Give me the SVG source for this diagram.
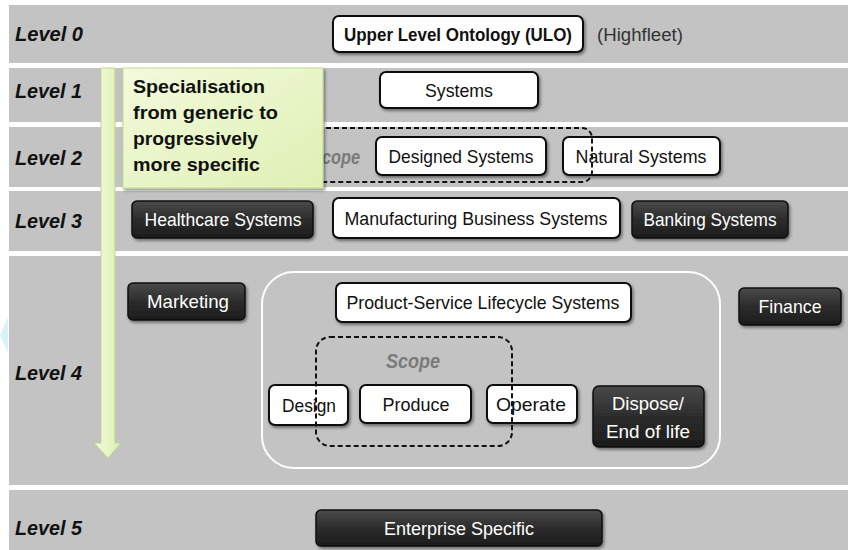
<svg xmlns="http://www.w3.org/2000/svg" width="848" height="550" viewBox="0 0 848 550">
<defs>
<style>
.band{fill:#c3c3c3}
.lvl{font-family:"Liberation Sans",Arial,sans-serif;font-weight:bold;font-style:italic;font-size:21px;fill:#111}
.wb{fill:#fff;stroke:#111;stroke-width:2}
.db{fill:url(#dg);stroke:#0e0e0e;stroke-width:1.5}
.t{font-family:"Liberation Sans",Arial,sans-serif;font-size:19px;text-anchor:middle}
.tw{fill:#111}
.td{fill:#fff}
.scope{fill:none;stroke:#111;stroke-width:2;stroke-dasharray:5 3}
.sc{font-family:"Liberation Sans",Arial,sans-serif;font-size:21px;font-style:italic;font-weight:bold;fill:#7a7a7a}
.gt{font-family:"Liberation Sans",Arial,sans-serif;font-size:19px;font-weight:bold;fill:#111}
</style>
<linearGradient id="dg" x1="0" y1="0" x2="0" y2="1"><stop offset="0" stop-color="#4a4a4a"/><stop offset="0.5" stop-color="#2c2c2c"/><stop offset="1" stop-color="#1c1c1c"/></linearGradient>
<linearGradient id="gg" x1="0" y1="0" x2="1" y2="1"><stop offset="0" stop-color="#f2fadc"/><stop offset="1" stop-color="#dff0b4"/></linearGradient>
<linearGradient id="ga" x1="0" y1="0" x2="1" y2="0"><stop offset="0" stop-color="#f4fbe0"/><stop offset="1" stop-color="#dcefb0"/></linearGradient>
<filter id="sh" x="-10%" y="-20%" width="130%" height="160%"><feDropShadow dx="1.5" dy="2" stdDeviation="1.5" flood-color="#000" flood-opacity="0.45"/></filter>
</defs>
<rect width="848" height="550" fill="#fff"/>
<polygon points="8,317 8,353 0,335" fill="#d8f2fc"/>
<g id="bands">
<rect class="band" x="9" y="5" width="839" height="58"/>
<rect class="band" x="9" y="68" width="839" height="54"/>
<rect class="band" x="9" y="127" width="839" height="60"/>
<rect class="band" x="9" y="191" width="839" height="60"/>
<rect class="band" x="9" y="256" width="839" height="229"/>
<rect class="band" x="9" y="490" width="839" height="60"/>
</g>
<g id="levels">
<text class="lvl" x="15" y="41" textLength="68" lengthAdjust="spacingAndGlyphs">Level 0</text>
<text class="lvl" x="15" y="98" textLength="67" lengthAdjust="spacingAndGlyphs">Level 1</text>
<text class="lvl" x="15" y="165" textLength="67" lengthAdjust="spacingAndGlyphs">Level 2</text>
<text class="lvl" x="15" y="228" textLength="67" lengthAdjust="spacingAndGlyphs">Level 3</text>
<text class="lvl" x="15" y="380" textLength="67" lengthAdjust="spacingAndGlyphs">Level 4</text>
<text class="lvl" x="15" y="535" textLength="67" lengthAdjust="spacingAndGlyphs">Level 5</text>
</g>
<g id="ulo">
<rect class="wb" x="333" y="16" width="250" height="36" rx="6" filter="url(#sh)"/>
<text class="t tw" x="458" y="41" font-weight="bold" textLength="228" lengthAdjust="spacingAndGlyphs">Upper Level Ontology (ULO)</text>
</g>
<text x="597" y="41" font-family="Liberation Sans,Arial,sans-serif" font-size="18" fill="#333" textLength="86" lengthAdjust="spacingAndGlyphs">(Highfleet)</text>
<g id="systems">
<rect class="wb" x="380" y="72" width="158" height="36" rx="6" filter="url(#sh)"/>
<text class="t tw" x="459" y="97" textLength="68" lengthAdjust="spacingAndGlyphs">Systems</text>
</g>
<g id="scope2-label"><text class="sc" x="311" y="164" textLength="49" lengthAdjust="spacingAndGlyphs">Scope</text></g>
<g id="designed">
<rect class="wb" x="376" y="137" width="170" height="38" rx="6" filter="url(#sh)"/>
<text class="t tw" x="461" y="163" textLength="145" lengthAdjust="spacingAndGlyphs">Designed Systems</text>
</g>
<g id="natural">
<rect class="wb" x="563" y="137" width="157" height="38" rx="6" filter="url(#sh)"/>
<text class="t tw" x="641" y="163" textLength="131" lengthAdjust="spacingAndGlyphs">Natural Systems</text>
</g>
<g id="scope2"><rect class="scope" x="300" y="128" width="292" height="54" rx="10"/></g>
<g id="healthcare">
<rect class="db" x="132" y="201" width="181" height="37" rx="5" filter="url(#sh)"/>
<text class="t td" x="223" y="226" textLength="157" lengthAdjust="spacingAndGlyphs">Healthcare Systems</text>
</g>
<g id="manufacturing">
<rect class="wb" x="333" y="198" width="287" height="40" rx="6" filter="url(#sh)"/>
<text class="t tw" x="476" y="225" textLength="263" lengthAdjust="spacingAndGlyphs">Manufacturing Business Systems</text>
</g>
<g id="banking">
<rect class="db" x="632" y="201" width="156" height="37" rx="5" filter="url(#sh)"/>
<text class="t td" x="710" y="226" textLength="133" lengthAdjust="spacingAndGlyphs">Banking Systems</text>
</g>
<g id="lifecycle-frame"><rect x="262" y="272" width="458" height="196" rx="32" fill="none" stroke="#fff" stroke-width="2"/></g>
<g id="marketing">
<rect class="db" x="128" y="283" width="117" height="37" rx="5" filter="url(#sh)"/>
<text class="t td" x="188" y="308" textLength="82" lengthAdjust="spacingAndGlyphs">Marketing</text>
</g>
<g id="product-service">
<rect class="wb" x="336" y="283" width="295" height="39" rx="6" filter="url(#sh)"/>
<text class="t tw" x="483" y="309" textLength="273" lengthAdjust="spacingAndGlyphs">Product-Service Lifecycle Systems</text>
</g>
<g id="finance">
<rect class="db" x="739" y="288" width="102" height="37" rx="5" filter="url(#sh)"/>
<text class="t td" x="790" y="313" textLength="63" lengthAdjust="spacingAndGlyphs">Finance</text>
</g>
<g id="scope4-label"><text class="sc" x="413" y="368" text-anchor="middle" textLength="54" lengthAdjust="spacingAndGlyphs">Scope</text></g>
<g id="design">
<rect class="wb" x="269" y="385" width="79" height="40" rx="6" filter="url(#sh)"/>
<text class="t tw" x="309" y="412" textLength="54" lengthAdjust="spacingAndGlyphs">Design</text>
</g>
<g id="produce">
<rect class="wb" x="360" y="385" width="111" height="38" rx="6" filter="url(#sh)"/>
<text class="t tw" x="416" y="411" textLength="67" lengthAdjust="spacingAndGlyphs">Produce</text>
</g>
<g id="operate">
<rect class="wb" x="487" y="385" width="90" height="38" rx="6" filter="url(#sh)"/>
<text class="t tw" x="531" y="411" textLength="70" lengthAdjust="spacingAndGlyphs">Operate</text>
</g>
<g id="dispose">
<rect class="db" x="593" y="386" width="111" height="61" rx="6" filter="url(#sh)"/>
<text class="t td" x="648" y="410" textLength="72" lengthAdjust="spacingAndGlyphs">Dispose/</text>
<text class="t td" x="648" y="438" textLength="84" lengthAdjust="spacingAndGlyphs">End of life</text>
</g>
<g id="scope4"><rect class="scope" x="316" y="337" width="196" height="109" rx="14"/></g>
<g id="enterprise">
<rect class="db" x="316" y="510" width="286" height="36" rx="5" filter="url(#sh)"/>
<text class="t td" x="459" y="535" textLength="150" lengthAdjust="spacingAndGlyphs">Enterprise Specific</text>
</g>
<g id="connectors">
<path d="M101,68 H115 V443 H121 L108,458 L94,443 H101 Z" fill="url(#ga)" stroke="#b9d88c" stroke-width="1"/>
</g>
<g id="specialisation-note">
<rect x="123" y="68" width="200" height="120" fill="url(#gg)" stroke="#c3dd93" stroke-width="1" filter="url(#sh)"/>
<text class="gt" x="133" y="93" textLength="132" lengthAdjust="spacingAndGlyphs">Specialisation</text>
<text class="gt" x="133" y="119" textLength="145" lengthAdjust="spacingAndGlyphs">from generic to</text>
<text class="gt" x="133" y="145" textLength="125" lengthAdjust="spacingAndGlyphs">progressively</text>
<text class="gt" x="133" y="171" textLength="127" lengthAdjust="spacingAndGlyphs">more specific</text>
</g>
</svg>
